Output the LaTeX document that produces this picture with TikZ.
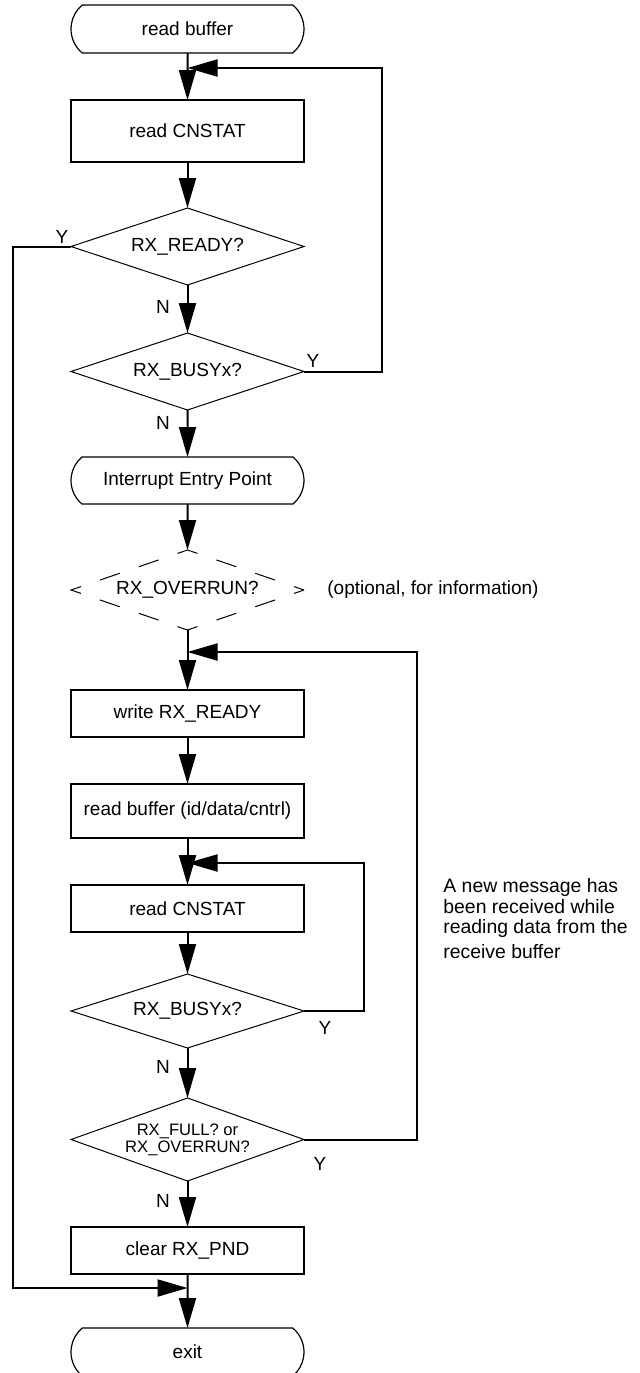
\documentclass[tikz,border=0pt]{standalone}
\usepackage{fontspec}
\setmainfont{Liberation Sans}
\usetikzlibrary{shapes.geometric, shapes.misc, arrows.meta, positioning, calc}
\newcommand\boxfs{\fontsize{9.5pt}{11pt}\selectfont}
\newcommand\smallfs{\fontsize{8.3pt}{8.6pt}\selectfont}
\newcommand\notefs{\fontsize{9.7pt}{11pt}\selectfont}
\tikzset{
  term/.style={draw, rounded rectangle, rounded rectangle arc length=100, line width=0.6pt,
    minimum width=116.5pt, minimum height=24pt, inner sep=0pt, outer sep=0pt, font=\boxfs},
  proc/.style={draw, line width=0.75pt, minimum width=116.5pt, inner sep=0pt,
    outer sep=0pt, font=\boxfs},
  decide/.style={draw, diamond, aspect=2.9, line width=0.5pt, minimum width=116.5pt,
    minimum height=38.5pt, inner sep=0pt, outer sep=0pt, font=\boxfs},
  decidedash/.style={decide, dash pattern=on 10.5pt off 10.03pt, dash phase=5.25pt},
  conn/.style={line width=1pt, -{Triangle[length=15pt,width=8.5pt]}},
  yn/.style={font=\boxfs, inner sep=0pt},
}
\begin{document}
\begin{tikzpicture}[x=0.5pt, y=-0.5pt]
  \useasboundingbox (0,0) rectangle (639,1373);
  % Polling part
  \node[term] (start) at (187.5,29) {read buffer};
  \node[proc, minimum height=31pt] (rdstat) at (187.5,131) {read CNSTAT};
  \node[decide] (ready) at (187.5,246.5) {RX\_READY?};
  \node[decide] (busy) at (187.5,371.5) {RX\_BUSYx?};
  % Interrupt part
  \node[term, minimum height=23.5pt] (entry) at (187.5,480.5) {Interrupt Entry Point};
  \node[decidedash, minimum height=40pt] (ovr) at (187.5,590) {RX\_OVERRUN?};
  \node[font=\boxfs, anchor=west, inner sep=0pt] (optnote) at (327,590) {(optional, for information)};
  \node[proc, minimum height=23.5pt] (wready) at (187.5,713.5) {write RX\_READY};
  \node[proc, minimum height=27pt] (rdbuf) at (187.5,811) {read buffer (id/data/cntrl)};
  \node[proc, minimum height=23.5pt] (rdstat2) at (187.5,908.5) {read CNSTAT};
  \node[decide, minimum height=37pt] (busy2) at (187.5,1011) {RX\_BUSYx?};
  \node[decide, minimum height=41.5pt, font=\smallfs, align=center] (full) at (187.5,1139.5)
    {RX\_FULL? or\\RX\_OVERRUN?};
  \node[proc, minimum height=23.5pt] (clrpnd) at (187.5,1250.5) {clear RX\_PND};
  \node[term] (exit) at (187.5,1352) {exit};
  \node[font=\notefs, anchor=north west, align=left, inner sep=0pt] (newmsg) at (443,878)
    {A new message has\\[-0.3pt]been received while\\[-1pt]reading data from the\\[1.5pt]receive buffer};
  % Join points
  \coordinate (j1) at (187.5,68);
  \coordinate (j2) at (187.5,652);
  \coordinate (j3) at (187.5,863);
  \coordinate (j4) at (187.5,1288);
  % Flow
  \draw[conn] (start) -- (rdstat);
  \draw[conn] (rdstat) -- (ready);
  \draw[conn] (ready) -- (busy);
  \draw[conn] (busy) -- (entry);
  \draw[conn] (entry) -- (ovr);
  \draw[conn] (ovr) -- (wready);
  \draw[conn] (wready) -- (rdbuf);
  \draw[conn] (rdbuf) -- (rdstat2);
  \draw[conn] (rdstat2) -- (busy2);
  \draw[conn] (busy2) -- (full);
  \draw[conn] (full) -- (clrpnd);
  \draw[conn] (clrpnd) -- (exit);
  % Loops back
  \draw[conn] (busy.east) -- (382,371.5) |- (j1);
  \draw[conn] (full.east) -- (417,1139.5) |- (j2);
  \draw[conn] (busy2.east) -- (364,1011) |- (j3);
  \draw[conn] (ready.west) -- (13,246.5) |- (j4);
  % Y / N marks
  \node[yn] (y1) at (62,237) {Y};
  \node[yn] (n1) at (163,307) {N};
  \node[yn] (y2) at (313,361) {Y};
  \node[yn] (n2) at (163,423) {N};
  \node[yn] (y3) at (325,1028) {Y};
  \node[yn] (n3) at (163,1067) {N};
  \node[yn] (y4) at (320,1164) {Y};
  \node[yn] (n4) at (163,1201) {N};
\end{tikzpicture}
\end{document}
